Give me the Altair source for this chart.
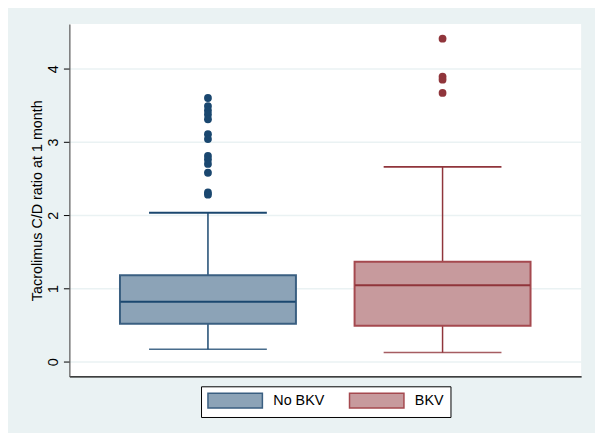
import altair as alt
import pandas as pd

groups = ["No BKV", "BKV"]
whisker_low = [0.17, 0.125]
q1 = [0.52, 0.49]
median = [0.82, 1.045]
q3 = [1.18, 1.365]
whisker_high = [2.035, 2.66]

outliers_no_bkv = [3.60, 3.49, 3.43, 3.375, 3.31, 3.105, 3.04, 2.81, 2.76, 2.70, 2.58, 2.31, 2.28]
outliers_bkv = [4.41, 3.89, 3.85, 3.67]

y_ticks = [0, 1, 2, 3, 4]

fills = ["#8CA3B7", "#C79A9D"]
lines = ["#1A476F", "#90353B"]
box_strokes = ["#3A5F81", "#A5494F"]

FONT = "Liberation Sans"

stats = pd.DataFrame({
    "group": groups,
    "lo": whisker_low,
    "q1": q1,
    "med": median,
    "q3": q3,
    "hi": whisker_high,
})
out = pd.DataFrame({
    "group": ["No BKV"] * len(outliers_no_bkv) + ["BKV"] * len(outliers_bkv),
    "value": outliers_no_bkv + outliers_bkv,
})

xscale = alt.Scale(domain=groups, paddingInner=0.25, paddingOuter=0.2157)
x_enc = alt.X("group:N", scale=xscale, sort=groups,
              axis=alt.Axis(labels=False, ticks=False, title=None, domainColor="#000000",
                            domainWidth=1.2, grid=False))
yscale = alt.Scale(domain=[-0.2, 4.61], nice=False, zero=False)
y_axis = alt.Axis(values=y_ticks, format="d", title="Tacrolimus C/D ratio at 1 month", grid=True,
                  gridColor="#EAF2F3", gridWidth=1.5, tickSize=6, tickColor="#000000",
                  domainColor="#555555", domainWidth=1.2,
                  labelAngle=270, labelAlign="center", labelBaseline="alphabetic",
                  labelPadding=6, labelFontSize=14.5, labelFont=FONT, labelColor="#000000",
                  titleFont=FONT, titleFontSize=14.5, titleFontWeight="normal",
                  titleColor="#000000", titleAngle=270, titleAlign="center",
                  titleBaseline="alphabetic", titleX=-28, titleY=178)
# reversed domain order so this (legend-less) scale is not merged with the legend scales
dark = alt.Color("group:N", scale=alt.Scale(domain=groups[::-1], range=lines[::-1]), legend=None)

whisk = alt.Chart(stats).mark_rule(strokeWidth=1.5).encode(
    x=x_enc,
    y=alt.Y("lo:Q", scale=yscale, axis=y_axis),
    y2="hi:Q",
    color=dark,
)

# wide swatch: 15px tall, 55px wide, anchored at the left of the symbol slot
legend = alt.Legend(title=None, orient="none", legendX=133, legendY=366,
                    direction="horizontal", columns=2,
                    symbolType="M-1,-1H6.333V1H-1Z", symbolSize=225,
                    symbolStrokeWidth=1.5, symbolOpacity=1,
                    labelFont=FONT, labelFontSize=14.5, labelColor="#000000",
                    labelOffset=50, columnPadding=22, padding=6,
                    strokeColor="#000000", fillColor="#FFFFFF")

box = alt.Chart(stats).mark_bar(strokeWidth=2).encode(
    x=x_enc,
    y=alt.Y("q1:Q", scale=yscale),
    y2="q3:Q",
    fill=alt.Fill("group:N", scale=alt.Scale(domain=groups, range=fills), legend=legend),
    stroke=alt.Stroke("group:N", scale=alt.Scale(domain=groups, range=box_strokes), legend=legend),
)

med = alt.Chart(stats).mark_tick(size=177, thickness=2, opacity=1).encode(
    x=x_enc,
    y=alt.Y("med:Q", scale=yscale),
    color=dark,
)

cap_hi = alt.Chart(stats).mark_tick(size=119, thickness=2, opacity=1).encode(
    x=x_enc,
    y=alt.Y("hi:Q", scale=yscale),
    color=dark,
)
cap_lo = alt.Chart(stats).mark_tick(size=119, thickness=1.5, opacity=0.8).encode(
    x=x_enc,
    y=alt.Y("lo:Q", scale=yscale),
    color=dark,
)

pts = alt.Chart(out).mark_circle(size=62, opacity=1).encode(
    x=x_enc,
    y=alt.Y("value:Q", scale=yscale),
    color=dark,
)

chart = alt.layer(whisk, box, med, cap_hi, cap_lo, pts).properties(
    width=517, height=356,
    background="#EAF2F3",
    padding={"left": 62, "top": 14, "right": 14, "bottom": 55},
    autosize=alt.AutoSizeParams(type="none"),
).configure_view(fill="#FFFFFF", stroke=None)

chart.save("out.html", embed_options={"renderer": "svg", "actions": False})
